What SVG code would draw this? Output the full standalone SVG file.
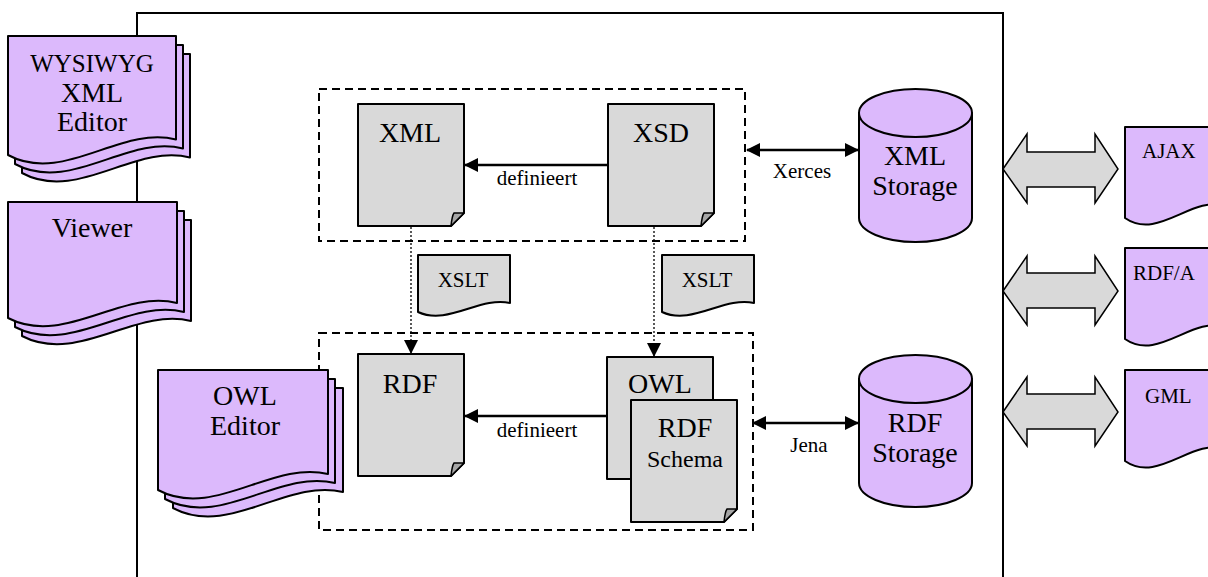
<svg xmlns="http://www.w3.org/2000/svg" width="1208" height="577" viewBox="0 0 1208 577" font-family="'Liberation Serif', 'Times New Roman', serif">
<style>
  .purple{fill:#dcb9fc;stroke:#000;stroke-width:2;stroke-linejoin:round}
  .gray{fill:#d9d9d9;stroke:#000;stroke-width:2;stroke-linejoin:round}
  .fold{fill:#a6a6a6;stroke:#000;stroke-width:1.5;stroke-linejoin:round}
  .dash{fill:none;stroke:#000;stroke-width:2;stroke-dasharray:8,5}
  .dot{fill:none;stroke:#000;stroke-width:1.3;stroke-dasharray:2,2}
  .line{fill:none;stroke:#000;stroke-width:2.5}
  .block{fill:#d9d9d9;stroke:#000;stroke-width:1.5;stroke-linejoin:miter}
  text{fill:#000;text-anchor:middle}
  .big{font-size:28px}
  .mid{font-size:21px}
  .sm{font-size:21px}
  .st{text-anchor:start}
</style>
<defs>
  <marker id="ah" viewBox="0 0 14 14" refX="13" refY="7" markerWidth="14" markerHeight="14" markerUnits="userSpaceOnUse" orient="auto-start-reverse">
    <path d="M0,0 L14,7 L0,14 Z" fill="#000"/>
  </marker>
  <path id="stackA" d="M0,0 H168 V103.5 C112.6,89 55.4,149 0,119 Z"/>
  <path id="stackB" d="M0,0 H169 V101 C113,87 56,145 0,116 Z"/>
  <path id="stackC" d="M0,0 H170 V104 C114,90 56,150 0,120 Z"/>
  <path id="rdoc" d="M0,0 H100 V79 C67,68 33,114 0,91 Z"/>
  <path id="xslt" d="M0,0 H92 V48 C62,41 30,71 0,57 Z"/>
  <path id="gdoc" d="M0,0 H106 V109 L93,122 H0 Z"/>
  <path id="gfold" d="M93,122 Q94,112 96,109 L106,109 Z"/>
</defs>

<!-- outer frame -->
<rect x="137" y="13" width="866" height="620" fill="none" stroke="#000" stroke-width="2"/>

<!-- dashed groups -->
<rect id="grp-xml" class="dash" x="319" y="89" width="426" height="152"/>
<rect id="grp-rdf" class="dash" x="319" y="333" width="434" height="197"/>

<!-- connectors -->
<g id="connectors">
  <line class="line" x1="608" y1="165" x2="465" y2="165" marker-end="url(#ah)"/>
  <line class="line" x1="608" y1="416" x2="465" y2="416" marker-end="url(#ah)"/>
  <line class="dot" x1="411" y1="227" x2="411" y2="353" marker-end="url(#ah)"/>
  <line class="dot" x1="654" y1="227" x2="654" y2="356" marker-end="url(#ah)"/>
  <line class="line" x1="747" y1="150" x2="858" y2="150" marker-start="url(#ah)" marker-end="url(#ah)"/>
  <line class="line" x1="753" y1="423" x2="858" y2="423" marker-start="url(#ah)" marker-end="url(#ah)"/>
  <polygon class="block" points="1003,169 1027,134 1027,152 1095,152 1095,134 1118,169 1095,203 1095,187 1027,187 1027,203"/>
  <polygon class="block" points="1003,291 1027,256 1027,273 1095,273 1095,256 1118,291 1095,325 1095,308 1027,308 1027,325"/>
  <polygon class="block" points="1003,412 1027,377 1027,394 1095,394 1095,377 1118,412 1095,446 1095,429 1027,429 1027,446"/>
  <text class="mid" x="537" y="185">definieert</text>
  <text class="mid" x="537" y="437">definieert</text>
  <text class="mid" x="802" y="178">Xerces</text>
  <text class="mid" x="809" y="452">Jena</text>
</g>

<!-- left stacks -->
<g id="wysiwyg">
  <use href="#stackA" class="purple" transform="translate(22,54)"/>
  <use href="#stackA" class="purple" transform="translate(15,45)"/>
  <use href="#stackA" class="purple" transform="translate(8,36)"/>
  <text class="big" x="92" y="72" style="font-size:25px">WYSIWYG</text>
  <text class="big" x="92" y="102">XML</text>
  <text class="big" x="92" y="131">Editor</text>
</g>
<g id="viewer">
  <use href="#stackB" class="purple" transform="translate(22,220)"/>
  <use href="#stackB" class="purple" transform="translate(15,211)"/>
  <use href="#stackB" class="purple" transform="translate(8,202)"/>
  <text class="big" x="92" y="237">Viewer</text>
</g>
<g id="owl-editor">
  <use href="#stackC" class="purple" transform="translate(173,388)"/>
  <use href="#stackC" class="purple" transform="translate(165,379)"/>
  <use href="#stackC" class="purple" transform="translate(158,370)"/>
  <text class="big" x="245" y="405">OWL</text>
  <text class="big" x="245" y="435">Editor</text>
</g>

<!-- gray documents -->
<g id="xml-doc" transform="translate(358,104)">
  <use href="#gdoc" class="gray"/><use href="#gfold" class="fold"/>
  <text class="big" x="52" y="38">XML</text>
</g>
<g id="xsd-doc" transform="translate(608,104)">
  <use href="#gdoc" class="gray"/><use href="#gfold" class="fold"/>
  <text class="big" x="53" y="38">XSD</text>
</g>
<g id="xslt1" transform="translate(418,255)">
  <use href="#xslt" class="gray"/>
  <text class="sm" x="45" y="32">XSLT</text>
</g>
<g id="xslt2" transform="translate(662,255)">
  <use href="#xslt" class="gray"/>
  <text class="sm" x="45" y="32">XSLT</text>
</g>
<g id="rdf-doc" transform="translate(358,354)">
  <use href="#gdoc" class="gray"/><use href="#gfold" class="fold"/>
  <text class="big" x="52" y="39">RDF</text>
</g>
<g id="owl-doc" transform="translate(607,357)">
  <use href="#gdoc" class="gray"/><use href="#gfold" class="fold"/>
  <text class="big" x="53" y="36">OWL</text>
</g>
<g id="rdfs-doc" transform="translate(631,400)">
  <use href="#gdoc" class="gray"/><use href="#gfold" class="fold"/>
  <text class="big" x="54" y="37">RDF</text>
  <text class="mid" x="54" y="67" style="font-size:24px">Schema</text>
</g>

<!-- storages -->
<g id="xml-storage">
  <path class="purple" d="M859,113 V218 A56.5,24 0 0 0 972,218 V113 Z"/>
  <ellipse class="purple" cx="915.5" cy="113" rx="56.5" ry="24"/>
  <text class="big" x="915" y="165">XML</text>
  <text class="big" x="915" y="195">Storage</text>
</g>
<g id="rdf-storage">
  <path class="purple" d="M859,379 V483 A56.5,24 0 0 0 972,483 V379 Z"/>
  <ellipse class="purple" cx="915.5" cy="379" rx="56.5" ry="24"/>
  <text class="big" x="915" y="432">RDF</text>
  <text class="big" x="915" y="462">Storage</text>
</g>

<!-- right docs -->
<g id="ajax" transform="translate(1125,127)">
  <use href="#rdoc" class="purple"/>
  <text class="sm st" x="17" y="31">AJAX</text>
</g>
<g id="rdfa" transform="translate(1125,248)">
  <use href="#rdoc" class="purple"/>
  <text class="sm st" x="8" y="32">RDF/A</text>
</g>
<g id="gml" transform="translate(1125,370)">
  <use href="#rdoc" class="purple"/>
  <text class="sm st" x="20" y="33">GML</text>
</g>
</svg>
